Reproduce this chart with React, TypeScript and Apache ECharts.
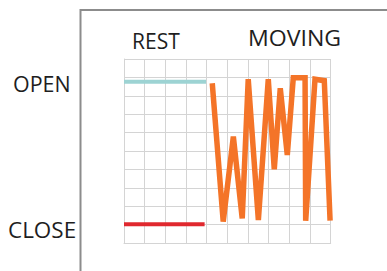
import React, { useEffect, useRef } from "react";
import * as echarts from "echarts";

const restOpenX = [0, 3.97];
const restOpenY = [8.77, 8.77];
const restCloseX = [0, 3.9];
const restCloseY = [1.02, 1.02];
const movingX = [4.27, 4.8, 5.29, 5.72, 6.01, 6.5, 6.98, 7.27, 7.56, 7.9, 8.19, 8.76, 8.79, 9.24, 9.69, 9.97];
const movingY = [8.68, 1.16, 5.78, 1.34, 8.9, 1.25, 8.9, 4.01, 8.41, 4.78, 8.98, 8.98, 1.21, 8.9, 8.82, 1.21];
const stateLabels = ["OPEN", "CLOSE"];
const phaseLabels = ["REST", "MOVING"];

const zip = (xs: number[], ys: number[]) => xs.map((x, i) => [x, ys[i]]);

export default function App() {
  const ref = useRef<HTMLDivElement>(null);
  useEffect(() => {
    if (!ref.current) return;
    const chart = echarts.init(ref.current, null, { renderer: "svg" });
    const font = "'Open Sans', 'Noto Sans', sans-serif";
    const gridColor = "#d4d4d4";
    const label = (text: string, x: number, y: number, sx = 1) => ({
      type: "text",
      x,
      y,
      scaleX: sx,
      style: {
        text,
        font: `21px ${font}`,
        fill: "#1e1e1e",
        textVerticalAlign: "middle",
        textAlign: "left",
      },
    });
    chart.setOption({
      animation: false,
      backgroundColor: "#ffffff",
      grid: { left: 124, right: 56.3, top: 59, bottom: 28, containLabel: false },
      xAxis: {
        type: "value",
        min: 0,
        max: 10,
        interval: 1,
        axisLine: { show: true, lineStyle: { color: gridColor, width: 1 } },
        axisTick: { show: false },
        axisLabel: { show: false },
        splitLine: { show: true, lineStyle: { color: gridColor, width: 1 } },
      },
      yAxis: {
        type: "value",
        min: 0,
        max: 10,
        interval: 1,
        axisLine: { show: true, lineStyle: { color: gridColor, width: 1 } },
        axisTick: { show: false },
        axisLabel: { show: false },
        splitLine: { show: true, lineStyle: { color: gridColor, width: 1 } },
      },
      series: [
        {
          type: "line",
          data: zip(restOpenX, restOpenY),
          symbol: "none",
          lineStyle: { color: "#9dd3d3", width: 4, cap: "butt" },
        },
        {
          type: "line",
          data: zip(restCloseX, restCloseY),
          symbol: "none",
          lineStyle: { color: "#e0282e", width: 4, cap: "butt" },
        },
        {
          type: "line",
          data: zip(movingX, movingY),
          symbol: "none",
          lineStyle: { color: "#f47428", width: 5.5, cap: "butt", join: "miter" },
        },
      ],
      graphic: [
        {
          type: "polyline",
          shape: { points: [[80.5, 271], [80.5, 10], [387, 10]] },
          style: { stroke: "#8c8c8c", lineWidth: 2, fill: null },
        },
        label(stateLabels[0], 13, 83.5, 1.02),
        label(stateLabels[1], 8, 230, 1.07),
        label(phaseLabels[0], 132, 40.5, 1.0),
        label(phaseLabels[1], 248, 37.5, 1.1),
      ],
    });
    return () => chart.dispose();
  }, []);
  return (
    <div
      ref={ref}
      style={{ position: "fixed", left: 0, top: 0, width: 387, height: 271 }}
    />
  );
}
